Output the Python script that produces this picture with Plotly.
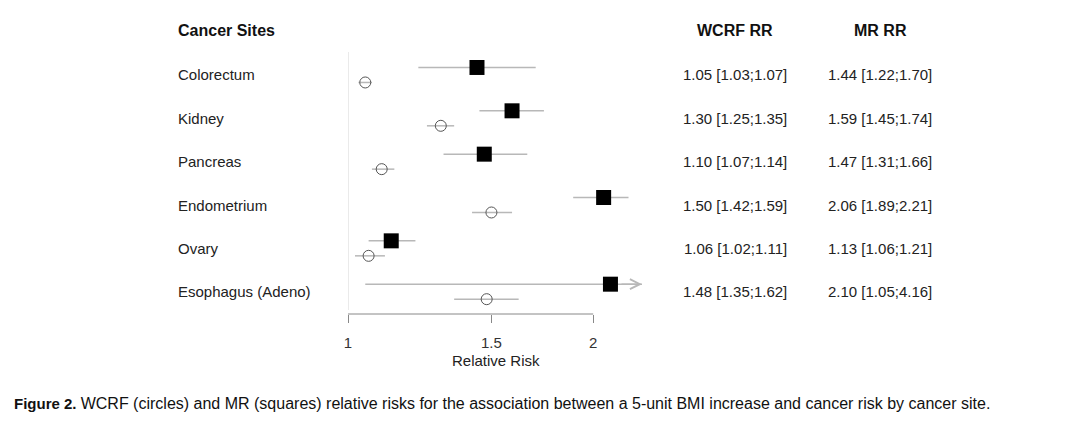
import math
import plotly.graph_objects as go

# ---------------- data ----------------
sites = ["Colorectum", "Kidney", "Pancreas", "Endometrium", "Ovary", "Esophagus (Adeno)"]
wcrf_rr = [1.05, 1.30, 1.10, 1.50, 1.06, 1.48]
wcrf_lo = [1.03, 1.25, 1.07, 1.42, 1.02, 1.35]
wcrf_hi = [1.07, 1.35, 1.14, 1.59, 1.11, 1.62]
mr_rr = [1.44, 1.59, 1.47, 2.06, 1.13, 2.10]
mr_lo = [1.22, 1.45, 1.31, 1.89, 1.06, 1.05]
mr_hi = [1.70, 1.74, 1.66, 2.21, 1.21, 4.16]
tick_vals = [1, 1.5, 2]
tick_text = ["1", "1.5", "2"]
caption_bold = "Figure 2."
caption_rest = ("WCRF (circles) and MR (squares) relative risks for the association "
                "between a 5-unit BMI increase and cancer risk by cancer site.")

# ---------------- layout geometry ----------------
OFF = 8                      # page body margin
W, H = 1066 - OFF, 424 - OFF
L, T = 348 - OFF, 52 - OFF
PW, PH = 294, 262
R, B = W - L - PW, H - T - PH
PX_PER_LOG10 = 814.5
x_log_max = PW / PX_PER_LOG10
x_max = 10 ** x_log_max
y_range = [5.515, -0.53]
off = 0.173

FONT = "Liberation Sans, Arial, Helvetica, sans-serif"
TXT = "#222222"


def pxx(px):
    return (px - OFF - L) / PW


def pxy(py):
    return 1 - (py - OFF - T) / PH


rows = list(range(len(sites)))
y_mr = [r - off for r in rows]
y_wc = [r + off for r in rows]

fig = go.Figure()

# CI lines
ci_x, ci_y = [], []
for i in rows:
    ci_x += [mr_lo[i], mr_hi[i], None]
    ci_y += [y_mr[i], y_mr[i], None]
    ci_x += [wcrf_lo[i], wcrf_hi[i], None]
    ci_y += [y_wc[i], y_wc[i], None]
fig.add_trace(go.Scatter(x=ci_x, y=ci_y, mode="lines",
                         line=dict(color="#b8b8b8", width=1.5),
                         hoverinfo="skip", showlegend=False))

# WCRF circles
fig.add_trace(go.Scatter(x=wcrf_rr, y=y_wc, mode="markers",
                         marker=dict(symbol="circle-open", size=11,
                                     color="#555555", line=dict(width=1, color="#555555")),
                         showlegend=False, cliponaxis=False))
# MR squares
fig.add_trace(go.Scatter(x=mr_rr, y=y_mr, mode="markers",
                         marker=dict(symbol="square", size=15, color="#000000",
                                     line=dict(width=0)),
                         showlegend=False, cliponaxis=False))

annotations = []
# arrows for truncated CIs
for i in rows:
    if mr_hi[i] > x_max:
        annotations.append(dict(x=x_log_max, y=y_mr[i], xref="x", yref="y",
                                ax=-22, ay=0, axref="pixel", ayref="pixel",
                                showarrow=True, arrowhead=5, arrowsize=1.3,
                                arrowwidth=1.5, arrowcolor="#b8b8b8", text=""))

# headers
hdr_y = pxy(31)
for txt, xpx, anchor in [("Cancer Sites", 176, "left"), ("WCRF RR", 735, "center"),
                         ("MR RR", 880, "center")]:
    annotations.append(dict(x=pxx(xpx), y=hdr_y, xref="paper", yref="paper",
                            text=f"<b>{txt}</b>", showarrow=False,
                            xanchor=anchor, yanchor="middle",
                            font=dict(family=FONT, size=16, color="#111111")))

for i in rows:
    annotations.append(dict(x=pxx(176), y=i, xref="paper", yref="y", text=sites[i],
                            showarrow=False, xanchor="left", yanchor="middle",
                            font=dict(family=FONT, size=15, color=TXT)))
    annotations.append(dict(x=pxx(735), y=i, xref="paper", yref="y",
                            text=f"{wcrf_rr[i]:.2f} [{wcrf_lo[i]:.2f};{wcrf_hi[i]:.2f}]",
                            showarrow=False, xanchor="center", yanchor="middle",
                            font=dict(family=FONT, size=15, color=TXT)))
    annotations.append(dict(x=pxx(880), y=i, xref="paper", yref="y",
                            text=f"{mr_rr[i]:.2f} [{mr_lo[i]:.2f};{mr_hi[i]:.2f}]",
                            showarrow=False, xanchor="center", yanchor="middle",
                            font=dict(family=FONT, size=15, color=TXT)))

# axis title
annotations.append(dict(x=pxx(496), y=pxy(360), xref="paper", yref="paper", text="Relative Risk",
                        showarrow=False, xanchor="center", yanchor="middle",
                        font=dict(family=FONT, size=15, color=TXT)))
# caption
annotations.append(dict(x=pxx(12), y=pxy(403), xref="paper", yref="paper",
                        text=f"<b>{caption_bold}</b> <span style='font-size:16px'>{caption_rest}</span>",
                        showarrow=False, xanchor="left", yanchor="middle",
                        font=dict(family=FONT, size=15, color="#111111")))

shapes = [
    # bottom axis line spanning tick range
    dict(type="line", xref="x", yref="paper", x0=tick_vals[0], x1=tick_vals[-1],
         y0=0, y1=0, line=dict(color="#888888", width=1)),
    # reference line at RR = 1
    dict(type="line", xref="x", yref="paper", x0=1, x1=1,
         y0=pxy(310), y1=1, line=dict(color="#d5d5d5", width=1)),
]

fig.update_layout(
    width=W, height=H,
    margin=dict(l=L, r=R, t=T, b=B, pad=0),
    paper_bgcolor="white", plot_bgcolor="white",
    xaxis=dict(type="log", range=[0, x_log_max], tickvals=tick_vals, ticktext=tick_text,
               ticks="outside", ticklen=8, tickcolor="#888888", tickwidth=1,
               ticklabelstandoff=7,
               showline=False, showgrid=False, zeroline=False,
               tickfont=dict(family=FONT, size=15, color="#333333")),
    yaxis=dict(range=y_range, visible=False, showgrid=False, zeroline=False),
    annotations=annotations,
    shapes=shapes,
    showlegend=False,
)

fig.write_html("out.html")
